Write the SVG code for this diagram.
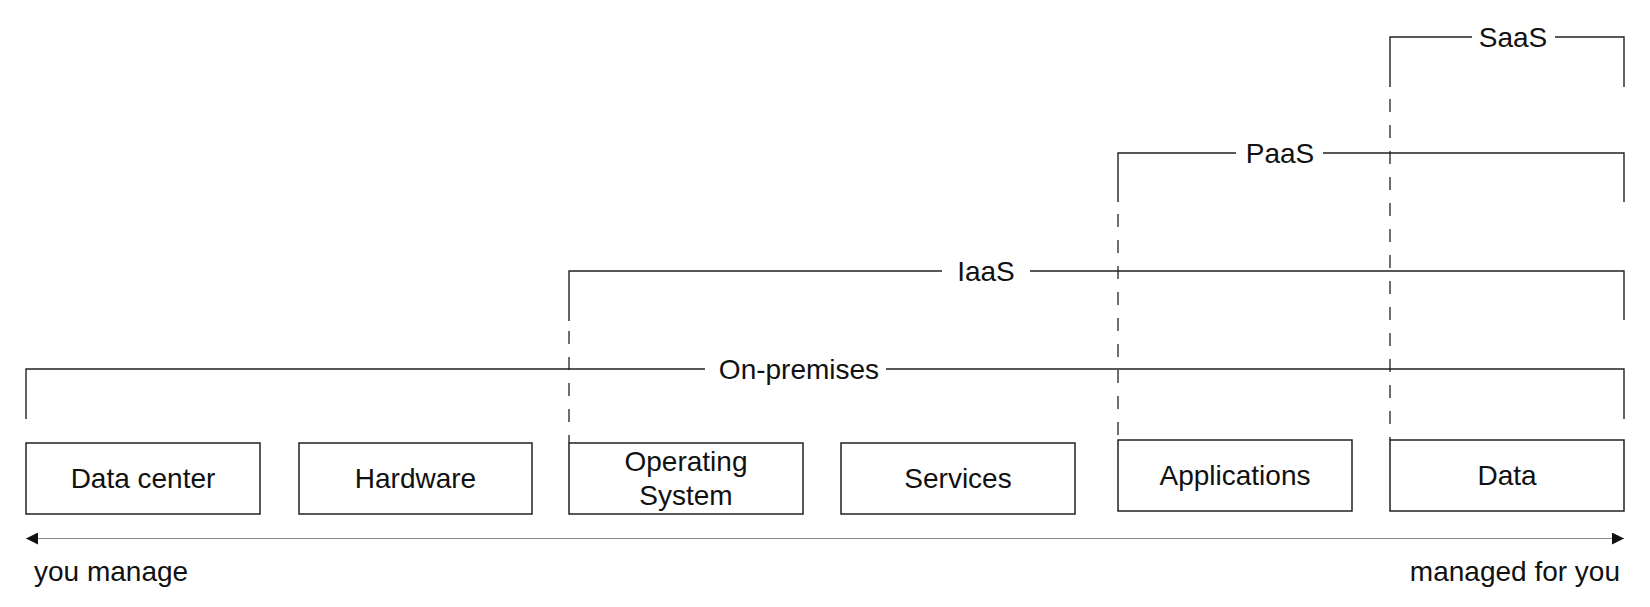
<svg xmlns="http://www.w3.org/2000/svg" width="1650" height="607" viewBox="0 0 1650 607">
<style>
.box{fill:#fff;stroke:#222;stroke-width:1.5}
.br{fill:none;stroke:#222;stroke-width:1.4}
.dash{fill:none;stroke:#222;stroke-width:1.3;stroke-dasharray:13 13}
.t{font-family:"Liberation Sans",Arial,sans-serif;font-size:28px;fill:#111}
.m{text-anchor:middle}
.axis{stroke:#888;stroke-width:1.2}
</style>
<defs>
<marker id="ah" markerWidth="12" markerHeight="12" refX="12" refY="6" orient="auto-start-reverse" markerUnits="userSpaceOnUse">
<path d="M0,0 L12,6 L0,12 Z" fill="#111"/>
</marker>
</defs>
<rect width="1650" height="607" fill="#fff"/>
<g id="connectors">
<path class="br" d="M26,419 V369 H705 M886,369 H1624 V419"/>
<path class="br" d="M569,321 V271 H942 M1030,271 H1624 V320"/>
<path class="br" d="M1118,202 V153 H1236 M1323,153 H1624 V202"/>
<path class="br" d="M1390,87 V37 H1472 M1555,37 H1624 V87"/>
<line class="dash" x1="569" y1="331" x2="569" y2="443"/>
<line class="dash" x1="1118" y1="214" x2="1118" y2="440"/>
<line class="dash" x1="1390" y1="99" x2="1390" y2="440"/>
<line class="axis" x1="26" y1="538.5" x2="1624" y2="538.5" marker-start="url(#ah)" marker-end="url(#ah)"/>
</g>
<g id="label-onprem"><text class="t m" x="799" y="379">On-premises</text></g>
<g id="label-iaas"><text class="t m" x="986" y="281">IaaS</text></g>
<g id="label-paas"><text class="t m" x="1280" y="163">PaaS</text></g>
<g id="label-saas"><text class="t m" x="1513" y="47">SaaS</text></g>
<g id="node-datacenter"><rect class="box" x="26" y="443" width="234" height="71"/><text class="t m" x="143" y="488">Data center</text></g>
<g id="node-hardware"><rect class="box" x="299" y="443" width="233" height="71"/><text class="t m" x="415.5" y="488">Hardware</text></g>
<g id="node-os"><rect class="box" x="569" y="443" width="234" height="71"/><text class="t m" x="686" y="471">Operating</text><text class="t m" x="686" y="505">System</text></g>
<g id="node-services"><rect class="box" x="841" y="443" width="234" height="71"/><text class="t m" x="958" y="488">Services</text></g>
<g id="node-applications"><rect class="box" x="1118" y="440" width="234" height="71"/><text class="t m" x="1235" y="485">Applications</text></g>
<g id="node-data"><rect class="box" x="1390" y="440" width="234" height="71"/><text class="t m" x="1507" y="485">Data</text></g>
<g id="label-you"><text class="t" x="34" y="581">you manage</text></g>
<g id="label-managed"><text class="t" x="1620" y="581" text-anchor="end">managed for you</text></g>
</svg>
